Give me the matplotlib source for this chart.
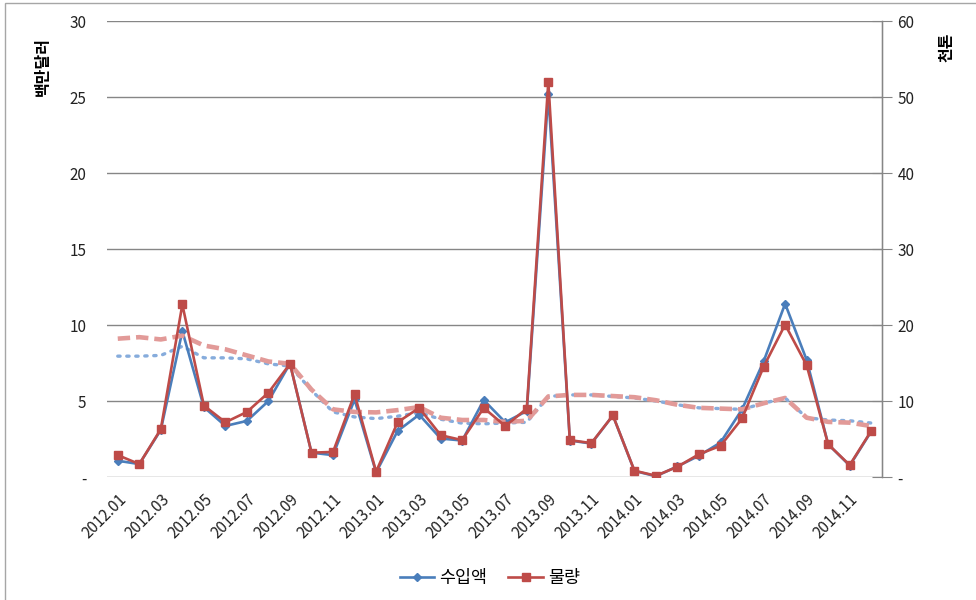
import numpy as np
import matplotlib
matplotlib.use("Agg")
import matplotlib.pyplot as plt
from matplotlib.lines import Line2D
from matplotlib.patches import Rectangle

plt.rcParams['font.family'] = ['Noto Sans CJK KR', 'DejaVu Sans']

# monthly labels 2012.01 .. 2014.12
months = [f"{y}.{m:02d}" for y in (2012, 2013, 2014) for m in range(1, 13)]

# 수입액 (백만달러, left axis)
import_value = [1.07, 0.85, 3.1, 9.6, 4.6, 3.36, 3.69, 5.0, 7.46, 1.6, 1.44, 5.1,
                0.3, 3.03, 4.1, 2.53, 2.4, 5.06, 3.6, 4.34, 25.2, 2.4, 2.2, 4.05,
                0.4, 0.05, 0.7, 1.4, 2.27, 4.45, 7.6, 11.4, 7.7, 2.15, 0.75, 3.0]

# 물량 (천톤, right axis)
volume = [2.88, 1.7, 6.3, 22.7, 9.4, 7.2, 8.56, 11.1, 14.9, 3.2, 3.3, 10.9,
          0.7, 7.2, 9.1, 5.5, 4.85, 9.1, 6.7, 9.0, 52.0, 4.85, 4.46, 8.1,
          0.83, 0.17, 1.35, 3.0, 4.1, 7.7, 14.5, 20.05, 14.7, 4.3, 1.57, 6.07]

# trend lines
import_trend = [7.95, 7.95, 8.0, 8.6, 7.84, 7.84, 7.77, 7.44, 7.3, 5.7, 4.28, 3.95,
                3.84, 4.0, 4.24, 3.8, 3.54, 3.5, 3.55, 3.6, 5.3, 5.4, 5.4, 5.3,
                5.2, 5.0, 4.75, 4.55, 4.5, 4.45, 4.85, 5.2, 3.9, 3.75, 3.7, 3.55]
volume_trend = [18.2, 18.4, 18.1, 18.6, 17.3, 16.8, 16.0, 15.2, 14.9, 11.5, 8.9, 8.56,
                8.5, 8.8, 9.2, 7.8, 7.5, 7.5, 7.25, 7.4, 10.6, 10.8, 10.8, 10.65,
                10.5, 10.1, 9.5, 9.1, 9.0, 8.9, 9.7, 10.4, 7.8, 7.25, 7.15, 6.7]

left_ticks = [0, 5, 10, 15, 20, 25, 30]
right_ticks = [0, 10, 20, 30, 40, 50, 60]

BLUE = '#4A7EBB'
RED = '#BE4B48'
GRID = '#868686'

fig = plt.figure(figsize=(9.76, 6.0), dpi=100)
ax = fig.add_axes([107/976, 1-477/600, (882-107)/976, (477-21)/600])
ax2 = ax.twinx()

x = np.arange(len(months))

ax.plot(x, import_trend, color='#86ACDC', lw=2.4, linestyle=(0, (0.7, 2.0)),
        dash_capstyle='round', zorder=2)
ax.plot(x, import_value, color=BLUE, lw=1.9, marker='D', ms=4.5, zorder=3)
ax2.plot(x, volume_trend, color='#E29A98', lw=3.3, linestyle=(0, (2.7, 1.3)), zorder=2)
ax2.plot(x, volume, color=RED, lw=1.9, marker='s', ms=6, zorder=3)

ax.set_xlim(-0.5, len(months) - 0.5)
ax.set_ylim(0, 30)
ax2.set_ylim(0, 60)

ax.set_yticks(left_ticks)
ax.set_yticklabels(['-' if v == 0 else str(v) for v in left_ticks])
ax2.set_yticks(right_ticks)
ax2.set_yticklabels(['-' if v == 0 else str(v) for v in right_ticks])

ax.set_xticks(x[::2])
ax.set_xticklabels(months[::2], rotation=45, ha='right', rotation_mode='anchor')

ax.grid(axis='y', color=GRID, lw=1.0)
ax.set_axisbelow(True)

for a in (ax, ax2):
    for s in ('top', 'left', 'bottom'):
        a.spines[s].set_visible(False)
ax2.spines['right'].set_color(GRID)
ax2.spines['right'].set_linewidth(1.0)

ax.tick_params(axis='y', length=0, pad=15, labelsize=11, labelcolor='#222222')
ax.tick_params(axis='x', length=0, pad=10, labelsize=11, labelcolor='#222222')
ax2.tick_params(axis='y', direction='inout', length=14, color=GRID, pad=4,
                labelsize=11, labelcolor='#222222')

fig.text(43/976, 1-66/600, '백만달러', rotation=90, ha='center', va='center',
         fontsize=11.5, fontweight='bold')
fig.text(946/976, 1-47/600, '천톤', rotation=90, ha='center', va='center',
         fontsize=11.5, fontweight='bold')

handles = [Line2D([], [], color=BLUE, lw=1.9, marker='D', ms=4.5),
           Line2D([], [], color=RED, lw=1.9, marker='s', ms=6)]
fig.legend(handles, ['수입액', '물량'], loc='center', bbox_to_anchor=(490/976, 1-578/600),
           ncol=2, frameon=False, fontsize=12.5, handlelength=2.0, columnspacing=1.2,
           handletextpad=0.3)

fig.patches.append(Rectangle((5/976, -0.05), 1.0, 0.05 + (600-3)/600,
                             transform=fig.transFigure, fill=False,
                             edgecolor='#A6A6A6', lw=1.0))

fig.savefig('out.png', dpi=100)
